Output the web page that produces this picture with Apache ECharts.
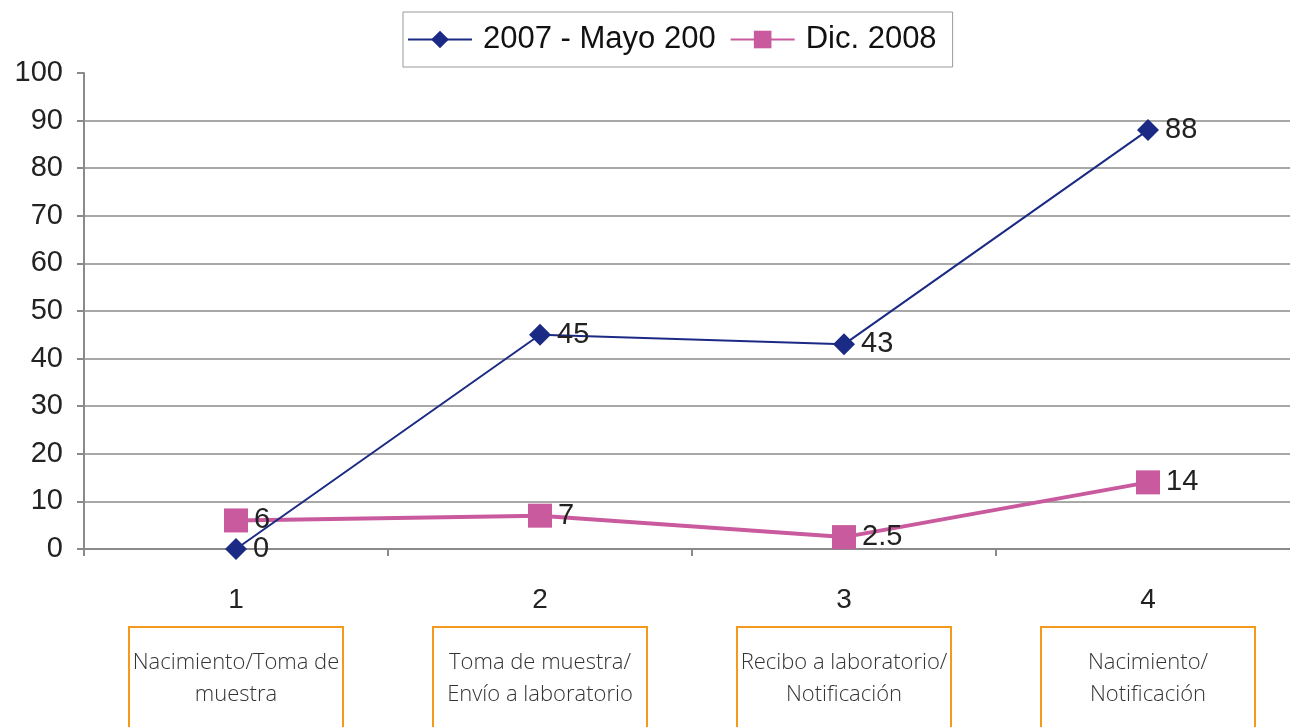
<!DOCTYPE html>
<html>
<head>
<meta charset="utf-8">
<script src="https://cdn.jsdelivr.net/npm/echarts@6/dist/echarts.min.js"></script>
<style>
  html, body { margin: 0; padding: 0; background: #fff; }
  #chart { width: 1290px; height: 727px; }
</style>
</head>
<body>
<div id="chart"></div>
<script>
const categories = ['1', '2', '3', '4']
const stageLabels = [
  'Nacimiento/Toma de\nmuestra',
  'Toma de muestra/\nEnvío a laboratorio',
  'Recibo a laboratorio/\nNotificación',
  'Nacimiento/\nNotificación'
]
const seriesNames = ['2007 - Mayo 200', 'Dic. 2008']
const series2007 = [0, 45, 43, 88]
const series2008 = [6, 7, 2.5, 14]
const yTicks = { min: 0, max: 100, interval: 10 }

const navy = '#1b2a84'
const pink = '#c95a9d'
const gridGray = '#a8a8a8'
const font = 'Liberation Sans, Arial, sans-serif'

const chart = echarts.init(document.getElementById('chart'))

const labelStyle = {
  show: true,
  position: 'right',
  distance: 6,
  fontFamily: font,
  fontSize: 29,
  color: '#222'
}

chart.setOption({
  backgroundColor: '#fff',
  animation: false,
  legend: {
    data: seriesNames,
    left: 403,
    top: 12,
    padding: [12, 16, 12, 4],
    itemGap: 14,
    itemWidth: 64,
    itemHeight: 22,
    borderColor: '#999',
    borderWidth: 1,
    textStyle: { fontFamily: font, fontSize: 31, color: '#111', padding: [0, 0, 0, 6] }
  },
  grid: { left: 84, top: 73, width: 1216, height: 476, outerBoundsMode: 'none' },
  xAxis: [
    {
      type: 'category',
      data: categories,
      boundaryGap: true,
      axisLine: { lineStyle: { color: '#8a8a8a', width: 2 } },
      axisTick: { show: true, length: 7, lineStyle: { color: '#8a8a8a', width: 2 } },
      axisLabel: { margin: 37, fontFamily: font, fontSize: 28, color: '#222' }
    },
    {
      type: 'category',
      data: stageLabels,
      position: 'bottom',
      offset: 0,
      boundaryGap: true,
      axisLine: { show: false },
      axisTick: { show: false },
      axisLabel: {
        margin: 78,
        interval: 0,
        width: 214,
        height: 110,
        overflow: 'none',
        align: 'center',
        verticalAlign: 'top',
        padding: [20, 0, 0, 0],
        lineHeight: 32,
        borderColor: '#f39a1c',
        borderWidth: 2,
        fontFamily: 'Open Sans, Lato, sans-serif',
        fontWeight: 300,
        fontSize: 22,
        color: '#333'
      }
    }
  ],
  yAxis: {
    type: 'value',
    min: yTicks.min,
    max: yTicks.max,
    interval: yTicks.interval,
    axisLine: { show: true, lineStyle: { color: '#8a8a8a', width: 2 } },
    axisTick: { show: true, length: 7, lineStyle: { color: '#8a8a8a', width: 2 } },
    axisLabel: { margin: 21, fontFamily: font, fontSize: 29, color: '#222' },
    splitLine: { show: true, showMaxLine: false, lineStyle: { color: gridGray, width: 2 } }
  },
  series: [
    {
      name: seriesNames[0],
      type: 'line',
      xAxisIndex: 0,
      data: series2007,
      symbol: 'diamond',
      symbolSize: 22,
      lineStyle: { color: navy, width: 2 },
      itemStyle: { color: navy },
      label: labelStyle,
      z: 3
    },
    {
      name: seriesNames[1],
      type: 'line',
      xAxisIndex: 0,
      data: series2008,
      symbol: 'rect',
      symbolSize: 24,
      lineStyle: { color: pink, width: 4 },
      itemStyle: { color: pink },
      label: labelStyle,
      z: 2
    }
  ]
})
</script>
</body>
</html>
